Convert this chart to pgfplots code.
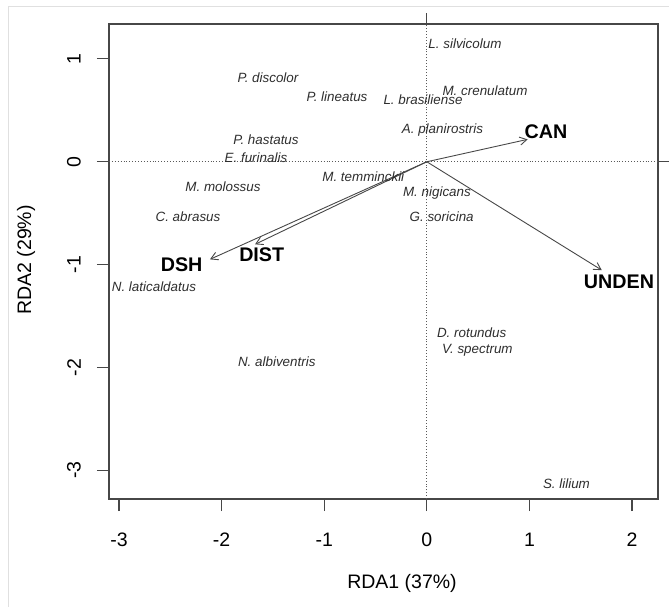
\documentclass[border=0pt]{standalone}
\usepackage{pgfplots}
\pgfplotsset{compat=1.18}
\usepackage{pgfplotstable}
\usepackage{fontspec}
\setmainfont{Liberation Sans}
\usetikzlibrary{arrows.meta}

\pgfplotstableread[col sep=comma]{
x,y,label
0.372,1.146,L. silvicolum
-1.548,0.815,P. discolor
0.567,0.689,M. crenulatum
-0.875,0.630,P. lineatus
-0.037,0.601,L. brasiliense
0.153,0.309,A. planirostris
0.099,-0.307,M. nigicans
0.145,-0.535,G. soricina
-0.619,-0.145,M. temminckii
-1.567,0.212,P. hastatus
-1.665,0.043,E. furinalis
-1.986,-0.243,M. molossus
-2.327,-0.535,C. abrasus
-2.659,-1.216,N. laticaldatus
-1.462,-1.946,N. albiventris
0.437,-1.660,D. rotundus
0.493,-1.832,V. spectrum
1.361,-3.129,S. lilium
}\species

\pgfplotstableread[col sep=comma]{
x,y,label
1.162,0.292,CAN
1.873,-1.167,UNDEN
-2.389,-1.005,DSH
-1.609,-0.908,DIST
}\envlabels

\begin{document}
\begin{tikzpicture}
\useasboundingbox (0pt,0pt) rectangle (669pt,607pt);
\draw[black!12, line width=1pt] (8pt,0pt) -- (8pt,600pt) -- (669pt,600pt);
\begin{axis}[
  at={(109pt,108pt)}, anchor=south west,
  scale only axis, width=549pt, height=475pt,
  xmin=-3.097, xmax=2.253, ymin=-3.28, ymax=1.34,
  clip=false,
  axis line style={line width=1.2pt, draw=black!72},
  tick align=outside, major tick length=12pt,
  tick style={line width=1.1pt, draw=black!72},
  xtick pos=lower, ytick pos=left,
  xtick={-3,-2,-1,0,1,2}, xticklabels={-3,-2,-1,0,1,2},
  ytick={-3,-2,-1,0,1}, yticklabels={-3,-2,-1,0,1},
  xticklabel style={anchor=center, yshift=-29pt, font=\fontsize{19.5}{22}\selectfont},
  yticklabel style={xshift=-23pt, anchor=center, rotate=90, font=\fontsize{19.5}{22}\selectfont},
]
\addplot[black!65, dotted, line width=0.9pt, forget plot] coordinates {(0,-3.28) (0,1.34)};
\addplot[black!65, dotted, line width=0.9pt, forget plot] coordinates {(-3.097,0) (2.253,0)};
\draw[line width=1.1pt, black!72] (axis cs:0,1.34) -- ++(0pt,11pt);
\draw[line width=1.1pt, black!72] (axis cs:2.253,0) -- ++(11pt,0pt);

\addplot[black!72, line width=0.9pt, -{Straight Barb[length=7pt,width=8pt]}] coordinates {(0,0) (0.983,0.218)};
\addplot[black!72, line width=0.9pt, -{Straight Barb[length=7pt,width=8pt]}] coordinates {(0,0) (1.705,-1.054)};
\addplot[black!72, line width=0.9pt, -{Straight Barb[length=7pt,width=8pt]}] coordinates {(0,0) (-2.113,-0.949)};
\addplot[black!72, line width=0.9pt, -{Straight Barb[length=7pt,width=8pt]}] coordinates {(0,0) (-1.674,-0.803)};

\addplot[draw=none, mark=none, nodes near coords, point meta=explicit symbolic,
  nodes near coords align=center,
  every node near coord/.append style={anchor=center, inner sep=0pt, text=black!82,
    font=\fontsize{13.4}{15}\selectfont\itshape}]
  table[x=x, y=y, meta=label] {\species};

\addplot[draw=none, mark=none, nodes near coords, point meta=explicit symbolic,
  nodes near coords align=center,
  every node near coord/.append style={anchor=center, inner sep=0pt, text=black,
    font=\fontsize{19.7}{22}\selectfont\bfseries}]
  table[x=x, y=y, meta=label] {\envlabels};
\end{axis}
\node[font=\fontsize{19.5}{22}\selectfont] at (402pt,24pt) {RDA1 (37\%)};
\node[font=\fontsize{19.5}{22}\selectfont, rotate=90] at (26pt,347pt) {RDA2 (29\%)};
\end{tikzpicture}
\end{document}
